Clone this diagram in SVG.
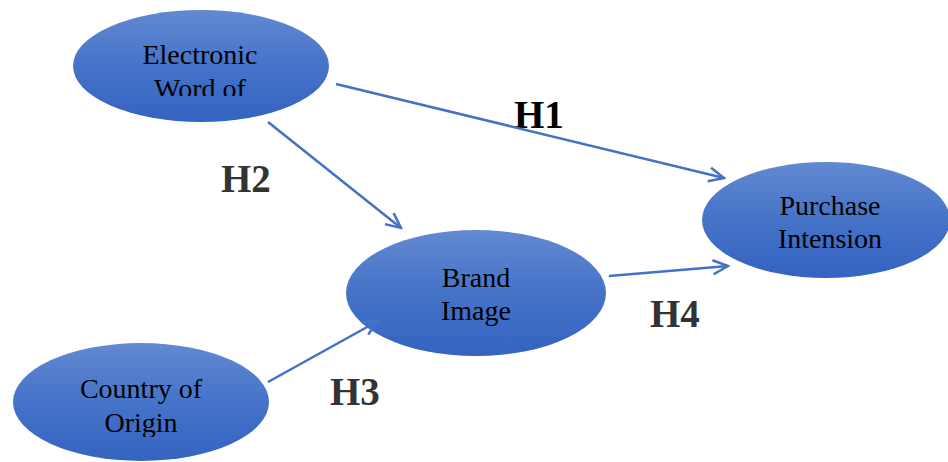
<svg xmlns="http://www.w3.org/2000/svg" width="948" height="462" viewBox="0 0 948 462">
<defs>
<linearGradient id="g" x1="0" y1="0" x2="0" y2="1">
<stop offset="0" stop-color="#6289d1"/>
<stop offset="0.5" stop-color="#4573c8"/>
<stop offset="1" stop-color="#3463c1"/>
</linearGradient>
<marker id="arr" viewBox="0 0 20 20" refX="18" refY="10" markerWidth="20" markerHeight="20" markerUnits="userSpaceOnUse" orient="auto">
<path d="M3,3 L18,10 L3,17" fill="none" stroke="#4472c4" stroke-width="2.5"/>
</marker>
<clipPath id="c1"><rect x="0" y="0" width="948" height="96"/></clipPath>
<clipPath id="c2"><rect x="0" y="0" width="948" height="437"/></clipPath>
</defs>
<style>
.node ellipse{fill:url(#g);}
.lbl{font-family:'Liberation Serif',serif;font-size:28px;fill:#000;text-anchor:middle;}
.h{font-family:'Liberation Serif',serif;font-size:39px;font-weight:bold;fill:#333;}
.conn line{stroke:#4472c4;stroke-width:2.5;marker-end:url(#arr);}
</style>
<rect width="948" height="462" fill="#fff"/>
<g id="ewom" class="node">
<ellipse cx="201" cy="66" rx="128" ry="56"/>
<text class="lbl" font-family="Liberation Serif" clip-path="url(#c1)"><tspan x="200" y="64">Electronic</tspan><tspan x="200" y="98">Word of</tspan></text>
</g>
<g id="purchase" class="node">
<ellipse cx="826" cy="220" rx="124" ry="58"/>
<text class="lbl" font-family="Liberation Serif"><tspan x="830" y="215">Purchase</tspan><tspan x="830" y="248">Intension</tspan></text>
</g>
<g id="brand" class="node">
<ellipse cx="476" cy="293" rx="130" ry="63"/>
<text class="lbl" font-family="Liberation Serif"><tspan x="476" y="287">Brand</tspan><tspan x="476" y="320">Image</tspan></text>
</g>
<g id="coo" class="node">
<ellipse cx="141" cy="402" rx="128" ry="59"/>
<text class="lbl" font-family="Liberation Serif" clip-path="url(#c2)"><tspan x="141" y="398">Country of</tspan><tspan x="141" y="432">Origin</tspan></text>
</g>
<text class="h" x="514" y="128" style="fill:#000">H1</text>
<g id="connectors" class="conn">
<line x1="336" y1="84" x2="724" y2="178"/>
<line x1="268" y1="122" x2="401" y2="228"/>
<line x1="268" y1="382" x2="378" y2="321"/>
<line x1="609" y1="276" x2="728" y2="266"/>
</g>
<text class="h" x="221" y="192">H2</text>
<text class="h" x="330" y="405">H3</text>
<text class="h" x="650" y="327">H4</text>
</svg>
